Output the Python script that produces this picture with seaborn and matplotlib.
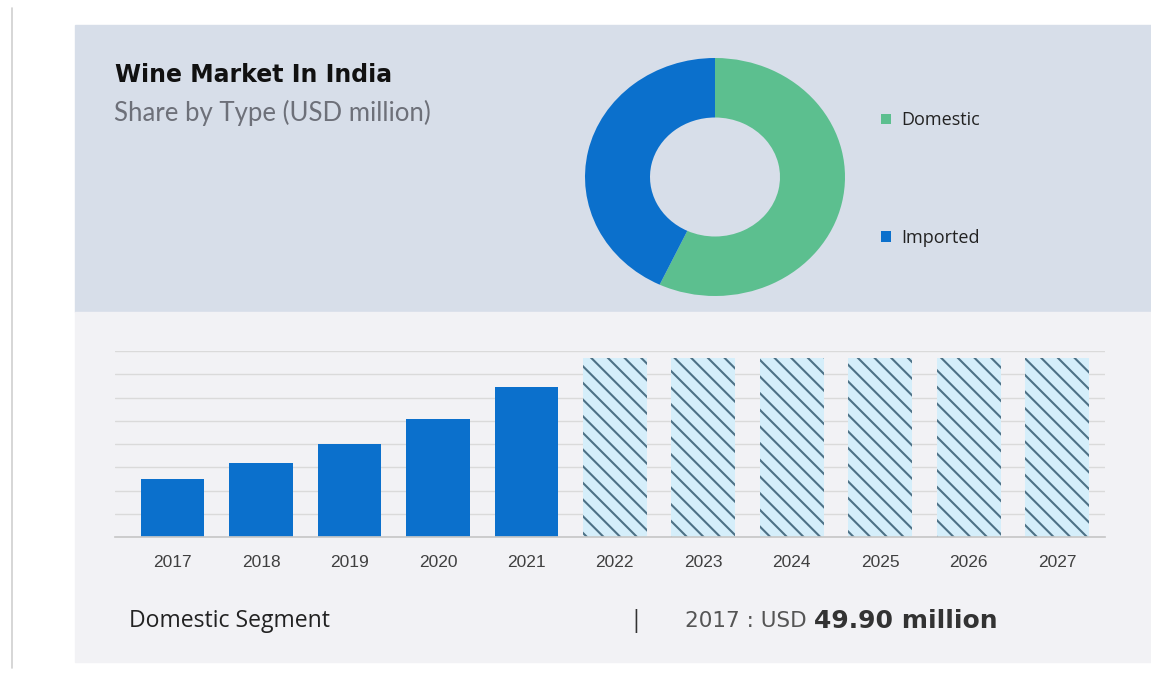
import pandas as pd
import matplotlib.pyplot as plt
import matplotlib.patches as mpatches
import seaborn as sns

# data
share_labels = ["Domestic", "Imported"]
share_values = [57, 43]
years = ["2017", "2018", "2019", "2020", "2021", "2022", "2023", "2024", "2025", "2026", "2027"]
values = [49.9, 63.4, 80.3, 101.3, 129.3, 154, 154, 154, 154, 154, 154]
phase = ["Actual"] * 5 + ["Forecast"] * 6

W, H = 1151, 675
GREEN = "#5cbf8f"
BLUE = "#0b70cc"


def fx(x):
    return x / W


def fy(y):
    return 1 - y / H


sns.set_theme(style="white")
plt.rcParams["font.family"] = ["DejaVu Sans"]
plt.rcParams["hatch.linewidth"] = 1.5

fig = plt.figure(figsize=(W / 100, H / 100), dpi=100)
fig.patch.set_facecolor("white")

# background panels
fig.patches.append(mpatches.Rectangle((fx(75), fy(312)), fx(1151) - fx(75), fy(25) - fy(312),
                                      transform=fig.transFigure, color="#d7dee9", zorder=-10))
fig.patches.append(mpatches.Rectangle((fx(75), fy(662)), fx(1151) - fx(75), fy(312) - fy(662),
                                      transform=fig.transFigure, color="#f2f2f5", zorder=-10))
fig.lines.append(plt.Line2D([fx(12), fx(12)], [fy(8), fy(668)], transform=fig.transFigure,
                            color="#d0d0d0", lw=1.2, zorder=-10))

# titles
fig.text(fx(115), fy(75), "Wine Market In India", fontsize=17, fontweight="bold",
         color="#111111", va="center", ha="left")
fig.text(fx(114), fy(113), "Share by Type (USD million)", fontsize=18.5, color="#6d7079",
         va="center", ha="left", family=["Lato", "DejaVu Sans"])

# donut
ax_pie = fig.add_axes([fx(585), fy(296), fx(845) - fx(585), fy(58) - fy(296)])
wedges, _ = ax_pie.pie(share_values, colors=[GREEN, BLUE], startangle=90, counterclock=False,
                       wedgeprops=dict(width=0.5, edgecolor="none"), radius=1)
ax_pie.set_aspect("auto")
ax_pie.set_xlim(-1, 1)
ax_pie.set_ylim(-1, 1)
ax_pie.axis("off")
fig.legend(wedges, share_labels, loc="center left", bbox_to_anchor=(fx(865), fy(179)),
           frameon=False, handlelength=0.55, handleheight=0.55, handletextpad=0.55,
           labelspacing=5.5, prop={"family": ["Open Sans", "DejaVu Sans"], "size": 13},
           labelcolor="#222222")

# bars
df = pd.DataFrame({"Year": years, "Value": values, "Phase": phase})
ax = fig.add_axes([fx(115), fy(537), fx(1105) - fx(115), fy(351) - fy(537)])
sns.barplot(data=df, x="Year", y="Value", hue="Phase", dodge=False, width=0.72,
            palette={"Actual": BLUE, "Forecast": "#d5eefa"}, legend=False, ax=ax,
            linewidth=0, saturation=1)
for bar in ax.containers[1]:
    bar.set_hatch("\\\\")
    bar.set_edgecolor("#4d7186")
    bar.set_linewidth(0)

ax.set_facecolor("none")
ax.set_xlim(-0.65, 10.54)
ax.set_ylim(0, 160)
ax.set_yticks(range(0, 161, 20))
ax.yaxis.grid(True, color="#dadada", lw=1)
ax.set_axisbelow(True)
ax.tick_params(axis="y", left=False, labelleft=False)
ax.tick_params(axis="x", bottom=False, labelsize=12.5, labelcolor="#404040", pad=7)
for lbl in ax.get_xticklabels():
    lbl.set_family(["Liberation Sans", "DejaVu Sans"])
ax.set_xlabel("")
ax.set_ylabel("")
sns.despine(ax=ax, left=True, bottom=False, top=True, right=True)
ax.spines["bottom"].set_color("#c8c8c8")

# footer
fig.text(fx(129), fy(621), "Domestic Segment", fontsize=16.6, color="#222222", va="center",
         family=["Open Sans", "DejaVu Sans"])
fig.text(fx(636), fy(621), "|", fontsize=17, color="#333333", va="center", ha="center",
         family=["Open Sans", "DejaVu Sans"])
t1 = fig.text(fx(685), fy(621), "2017 : USD", fontsize=15.5, color="#555555", va="center")
renderer = fig.canvas.get_renderer()
x_end = t1.get_window_extent(renderer).x1
fig.text((x_end + 7) / W, fy(621), "49.90 million", fontsize=18, color="#333333",
         va="center", fontweight="bold")

fig.savefig("out.png", dpi=100)
